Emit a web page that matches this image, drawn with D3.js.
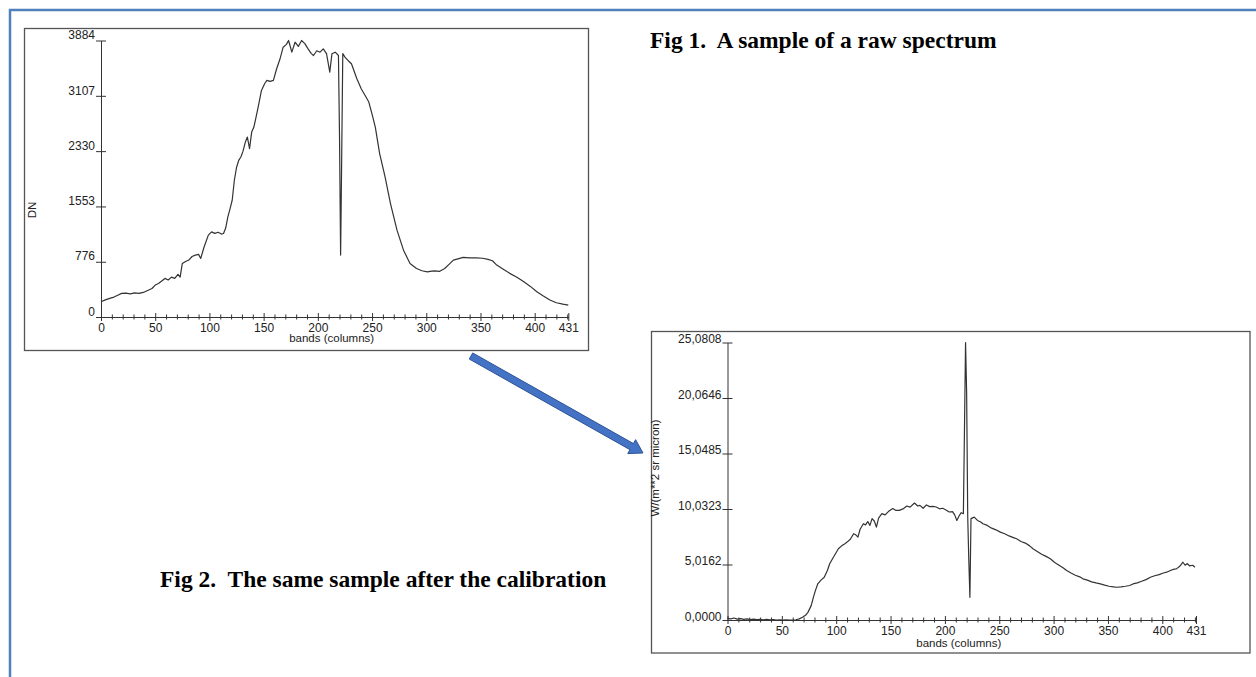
<!DOCTYPE html>
<html>
<head>
<meta charset="utf-8">
<script src="https://cdn.jsdelivr.net/npm/d3@7"></script>
<style>
  body { margin: 0; background: #fff; }
  svg { display: block; }
  .axis text { font-family: 'Liberation Sans', Arial, sans-serif; font-size: 12px; fill: #222; }
  .axis path, .axis line { stroke: #333; }
  .title { font-family: 'Liberation Serif', 'Times New Roman', serif; font-weight: bold; font-size: 23.5px; white-space: pre; }
</style>
</head>
<body>
<svg id="chart" width="1256" height="677"></svg>
<script>
// Fig 1: raw spectrum (DN per band)
const rawBands = [0,4,8,12,16,19,23,27,31,35,39,43,47,50,53,56,59,62,65,68,71,73,75,78,81,84,87,90,92,95,
  99,102,105,108,111,113,115,117,119,121,123,125,127,129,131,133,135,137,139,141,143,145,148,151,153,156,159,162,165,168,
  171,173,176,179,182,185,188,191,194,196,199,202,205,208,211,213,216,219,220,221,222,223,225,228,231,234,236,240,244,247,
  250,253,257,262,267,273,279,285,291,296,301,305,308,312,317,321,325,330,334,340,346,352,357,361,365,371,377,384,390,396,
  402,408,414,420,426,431];
const rawDN = [214,240,262,280,310,332,336,325,340,332,345,372,400,449,470,505,542,520,560,542,600,560,752,780,800,850,869,880,823,980,
  1150,1196,1175,1190,1165,1173,1250,1406,1520,1640,1921,2100,2201,2247,2330,2450,2528,2365,2600,2668,2808,2950,3183,3280,3323,3310,3323,3487,3620,3790,
  3830,3884,3720,3860,3800,3884,3840,3767,3700,3673,3740,3720,3767,3700,3439,3697,3720,3673,2530,870,2250,3700,3650,3600,3557,3430,3346,3206,3100,3019,
  2850,2668,2295,1967,1594,1220,939,752,682,650,635,645,649,640,682,740,799,820,837,830,831,825,809,790,729,670,613,555,495,430,
  355,295,238,200,180,168];
const rawTicksY = [0,776,1553,2330,3107,3884];

// Fig 2: calibrated radiance W/(m**2 sr micron)
const calBands = [0,3,6,9,12,15,18,21,24,27,30,33,36,39,42,45,48,51,54,57,60,63,66,69,72,74,77,79,81,83,
  86,89,92,94,97,100,102,105,108,110,113,116,118,120,122,125,127,129,131,133,135,137,139,142,145,148,152,155,158,162,
  165,168,172,175,177,180,183,186,189,192,195,198,201,204,207,209,211,213,215,217,218,219,220,221,222,223,224,227,230,233,
  235,239,243,247,251,255,259,263,266,270,274,278,281,285,289,293,297,301,305,309,312,316,320,324,327,331,335,339,343,347,
  351,355,358,362,366,370,373,377,381,385,389,393,397,401,404,408,411,413,416,419,421,423,425,428,430];
const calRad = [0.15,0.10,0.18,0.08,0.12,0.05,0.10,0.04,0.08,0.03,0.06,0.02,0.05,0.01,0.03,0.00,0.02,0.00,0.01,0.00,0.00,0.02,0.10,0.25,0.45,0.69,1.30,2.05,2.70,3.26,
  3.60,3.86,4.50,5.08,5.60,6.10,6.44,6.70,6.90,7.04,7.30,7.80,7.70,7.49,8.20,8.70,8.60,8.90,8.55,9.16,8.95,8.40,9.20,9.61,9.50,9.80,10.07,9.90,9.91,10.07,
  10.30,10.20,10.57,10.30,10.36,10.10,10.40,10.25,10.27,10.21,10.05,10.10,9.95,9.76,9.80,9.50,9.00,9.40,9.70,9.61,17.2,25.08,20.5,9.3,5.4,2.05,9.16,9.30,9.00,8.85,
  8.70,8.55,8.30,8.15,7.94,7.80,7.60,7.45,7.34,7.10,6.95,6.70,6.44,6.20,5.95,5.75,5.53,5.20,4.95,4.70,4.47,4.25,4.05,3.90,3.72,3.60,3.45,3.35,3.26,3.15,
  3.05,3.00,2.96,3.00,3.05,3.12,3.26,3.35,3.50,3.65,3.86,4.00,4.10,4.25,4.32,4.50,4.60,4.62,4.85,5.22,4.95,5.10,4.90,4.95,4.77];
const calTicksY = [0,5.0162,10.0323,15.0485,20.0646,25.0808];

const bandTicks = [0,50,100,150,200,250,300,350,400,431];
const bandMinor = d3.range(10, 431, 10).filter(d => d % 50 !== 0);

let svg = d3.select('#chart');

// outer page border
svg.append('rect')
  .attr('x', 10).attr('y', 10).attr('width', 1300).attr('height', 700)
  .attr('fill', 'none').attr('stroke', '#4f81bd').attr('stroke-width', 2.5);

function drawPlot(opt) {
  let g = svg.append('g');

  g.append('rect')
    .attr('x', opt.frame[0]).attr('y', opt.frame[1])
    .attr('width', opt.frame[2]).attr('height', opt.frame[3])
    .attr('fill', '#fff').attr('stroke', '#555').attr('stroke-width', 1.3);

  let x = d3.scaleLinear().domain([0, 431]).range(opt.xRange);
  let y = d3.scaleLinear().domain([0, opt.yMax]).range(opt.yRange);

  // minor ticks on x
  let xMinor = g.append('g').attr('class', 'axis')
    .attr('transform', `translate(0,${opt.yRange[0]})`)
    .call(d3.axisBottom(x).tickValues(bandMinor).tickFormat('').tickSizeOuter(0));
  xMinor.select('.domain').remove();
  xMinor.selectAll('.tick line').attr('y1', -2.5).attr('y2', 2.5);

  // major ticks on x
  let xAxis = g.append('g').attr('class', 'axis')
    .attr('transform', `translate(0,${opt.yRange[0]})`)
    .call(d3.axisBottom(x).tickValues(bandTicks).tickFormat(d3.format('d')).tickSizeOuter(0));
  xAxis.selectAll('.tick line').attr('y1', -4).attr('y2', 4);
  xAxis.selectAll('.tick text').attr('y', 6);

  // y axis
  let yAxis = g.append('g').attr('class', 'axis')
    .attr('transform', `translate(${opt.xRange[0]},0)`)
    .call(d3.axisLeft(y).tickValues(opt.yTicks).tickFormat(opt.yFormat).tickSizeOuter(0));
  yAxis.selectAll('.tick line').attr('x1', -5).attr('x2', 5);
  yAxis.selectAll('.tick text').attr('x', -6).attr('dy', opt.labelDy);

  g.append('text')
    .attr('x', (opt.xRange[0] + opt.xRange[1]) / 2 - 3)
    .attr('y', opt.yRange[0] + opt.xLabelOffset)
    .attr('text-anchor', 'middle')
    .style('font-family', "'Liberation Sans', Arial, sans-serif")
    .style('font-size', '11.5px').attr('fill', '#222')
    .text('bands (columns)');

  g.append('text')
    .attr('transform', `translate(${opt.yLabelPos[0]},${opt.yLabelPos[1]}) rotate(-90)`)
    .attr('text-anchor', 'middle')
    .style('font-family', "'Liberation Sans', Arial, sans-serif")
    .style('font-size', '11.5px').attr('fill', '#222')
    .text(opt.yLabel);

  let line = d3.line()
    .x((d, i) => x(opt.bands[i]))
    .y(d => y(d));

  g.append('path')
    .datum(opt.values)
    .attr('fill', 'none')
    .attr('stroke', '#333')
    .attr('stroke-width', 1.2)
    .attr('stroke-linejoin', 'round')
    .attr('d', line);
}

drawPlot({
  frame: [24.5, 28.5, 564, 322],
  xRange: [101, 568.3],
  yRange: [317, 40.5],
  yMax: 3884,
  yTicks: rawTicksY,
  yFormat: d3.format('d'),
  labelDy: '-0.15em',
  xLabelOffset: 25,
  yLabel: 'DN',
  yLabelPos: [36, 210],
  bands: rawBands,
  values: rawDN
});

drawPlot({
  frame: [651.5, 331.5, 598.5, 321.5],
  xRange: [727.5, 1196],
  yRange: [620, 342.5],
  yMax: 25.0808,
  yTicks: calTicksY,
  yFormat: d => d.toFixed(4).replace('.', ','),
  labelDy: '0em',
  xLabelOffset: 27,
  yLabel: 'W/(m**2 sr micron)',
  yLabelPos: [659, 468],
  bands: calBands,
  values: calRad
});

// captions
svg.append('text').attr('class', 'title')
  .attr('x', 650).attr('y', 48)
  .text('Fig 1.  A sample of a raw spectrum');

svg.append('text').attr('class', 'title')
  .attr('x', 160).attr('y', 587)
  .text('Fig 2.  The same sample after the calibration');

// block arrow from Fig 1 to Fig 2
const arrowFrom = [471, 356];
const arrowTo = [643, 453];
(function drawArrow() {
  let dx = arrowTo[0] - arrowFrom[0], dy = arrowTo[1] - arrowFrom[1];
  let len = Math.hypot(dx, dy);
  let ux = dx / len, uy = dy / len, px = -uy, py = ux;
  let shaft = 3.5, head = 8, headLen = 13;
  let bx = arrowTo[0] - ux * headLen, by = arrowTo[1] - uy * headLen;
  let pts = [
    [arrowFrom[0] + px * shaft, arrowFrom[1] + py * shaft],
    [bx + px * shaft, by + py * shaft],
    [bx + px * head, by + py * head],
    arrowTo,
    [bx - px * head, by - py * head],
    [bx - px * shaft, by - py * shaft],
    [arrowFrom[0] - px * shaft, arrowFrom[1] - py * shaft]
  ];
  svg.append('path')
    .attr('d', 'M' + pts.map(p => p.join(',')).join('L') + 'Z')
    .attr('fill', '#4472c4')
    .attr('stroke', '#2f5597')
    .attr('stroke-width', 1);
})();
</script>
</body>
</html>
